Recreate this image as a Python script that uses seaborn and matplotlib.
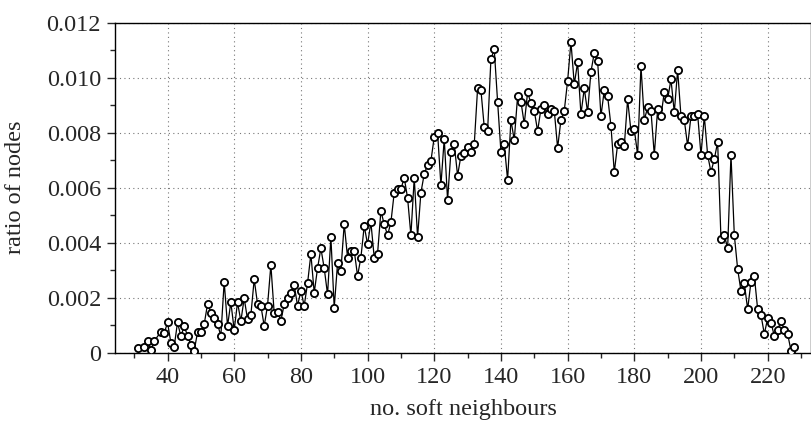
import matplotlib
matplotlib.use("Agg")
import matplotlib.pyplot as plt
import seaborn as sns
import pandas as pd
from matplotlib.ticker import MultipleLocator, FuncFormatter

# ---- data ----
neighbours = [31, 33, 34, 35, 36] + list(range(38, 229))
ratio = [
    0.00016, 0.00022, 0.00042, 0.00010, 0.00042,            # 31-36
    0.00076, 0.00070, 0.00110, 0.00037, 0.00022,            # 38-42
    0.00110, 0.00060, 0.00096, 0.00062, 0.00028,            # 43-47
    0.00007, 0.00074, 0.00074, 0.00103, 0.00177,            # 48-52
    0.00146, 0.00126, 0.00103, 0.00062, 0.00258,            # 53-57
    0.00097, 0.00183, 0.00083, 0.00183, 0.00115,            # 58-62
    0.00198, 0.00121, 0.00137, 0.00267, 0.00177,            # 63-67
    0.00171, 0.00097, 0.00171, 0.00319, 0.00143,            # 68-72
    0.00149, 0.00115, 0.00177, 0.00198, 0.00218,            # 73-77
    0.00246, 0.00171, 0.00224, 0.00171, 0.00252,            # 78-82
    0.00359, 0.00218, 0.00307, 0.00380, 0.00307,            # 83-87
    0.00212, 0.00420, 0.00164, 0.00325, 0.00298,            # 88-92
    0.00468, 0.00346, 0.00371, 0.00371, 0.00279,            # 93-97
    0.00346, 0.00461, 0.00394, 0.00474, 0.00346,            # 98-102
    0.00360, 0.00515, 0.00467, 0.00427, 0.00474,            # 103-107
    0.00582, 0.00595, 0.00595, 0.00636, 0.00563,            # 108-112
    0.00427, 0.00636, 0.00421, 0.00582, 0.00650,            # 113-117
    0.00683, 0.00697, 0.00785, 0.00800, 0.00609,            # 118-122
    0.00778, 0.00555, 0.00731, 0.00758, 0.00644,            # 123-127
    0.00716, 0.00725, 0.00747, 0.00731, 0.00758,            # 128-132
    0.00961, 0.00955, 0.00820, 0.00806, 0.01068,            # 133-137
    0.01103, 0.00913, 0.00731, 0.00758, 0.00628,            # 138-142
    0.00846, 0.00773, 0.00933, 0.00913, 0.00832,            # 143-147
    0.00947, 0.00907, 0.00880, 0.00806, 0.00886,            # 148-152
    0.00901, 0.00867, 0.00887, 0.00880, 0.00745,            # 153-157
    0.00846, 0.00880, 0.00988, 0.01130, 0.00976,            # 158-162
    0.01056, 0.00867, 0.00961, 0.00874, 0.01022,            # 163-167
    0.01090, 0.01062, 0.00860, 0.00955, 0.00933,            # 168-172
    0.00825, 0.00656, 0.00758, 0.00766, 0.00752,            # 173-177
    0.00921, 0.00806, 0.00813, 0.00719, 0.01043,            # 178-182
    0.00846, 0.00892, 0.00880, 0.00719, 0.00886,            # 183-187
    0.00860, 0.00948, 0.00921, 0.00994, 0.00874,            # 188-192
    0.01028, 0.00860, 0.00846, 0.00752, 0.00860,            # 193-197
    0.00860, 0.00867, 0.00719, 0.00860, 0.00719,            # 198-202
    0.00657, 0.00704, 0.00766, 0.00413, 0.00428,            # 203-207
    0.00380, 0.00719, 0.00428, 0.00304, 0.00224,            # 208-212
    0.00252, 0.00158, 0.00258, 0.00279, 0.00158,            # 213-217
    0.00137, 0.00068, 0.00125, 0.00109, 0.00061,            # 218-222
    0.00083, 0.00116, 0.00083, 0.00068, 0.00007,            # 223-227
    0.00022,                                                # 228
]
x_label = "no. soft neighbours"
y_label = "ratio of nodes"

df = pd.DataFrame({"neighbours": neighbours, "ratio": ratio})

sns.set_style("ticks")
plt.rcParams["font.family"] = ["Liberation Serif", "DejaVu Serif"]
plt.rcParams["font.size"] = 17.5

fig = plt.figure(figsize=(8.12, 4.23), dpi=100)
ax = fig.add_axes([115 / 812, 1 - 352.7 / 423, 696 / 812, 330 / 423])

sns.lineplot(data=df, x="neighbours", y="ratio", ax=ax, color="black",
             linewidth=0.9, marker="o", markersize=5.2,
             markerfacecolor="white", markeredgecolor="black",
             markeredgewidth=1.3, zorder=3)

ax.set_xlim(24.25, 233.0)
ax.set_ylim(0, 0.012)
ax.xaxis.set_major_locator(MultipleLocator(20))
ax.xaxis.set_minor_locator(MultipleLocator(10))
ax.yaxis.set_major_locator(MultipleLocator(0.002))
ax.yaxis.set_minor_locator(MultipleLocator(0.001))
ax.yaxis.set_major_formatter(FuncFormatter(lambda v, p: "0" if abs(v) < 1e-12 else f"{v:.3f}"))

ax.grid(True, which="major", linestyle=(0, (1, 3)), color="#777777", linewidth=0.8)
ax.tick_params(which="major", direction="out", length=6, width=1, labelsize=17.5, pad=4)
ax.tick_params(which="minor", direction="out", length=3.5, width=1)
for s in ax.spines.values():
    s.set_visible(True)
    s.set_linewidth(1.0)
    s.set_color("black")

ax.set_xlabel(x_label, fontsize=17.5)
ax.set_ylabel(y_label, fontsize=17.5)
ax.xaxis.set_label_coords(0.5, -0.14)
ax.yaxis.set_label_coords(-0.128, 0.5)

fig.savefig("out.png", dpi=100)
